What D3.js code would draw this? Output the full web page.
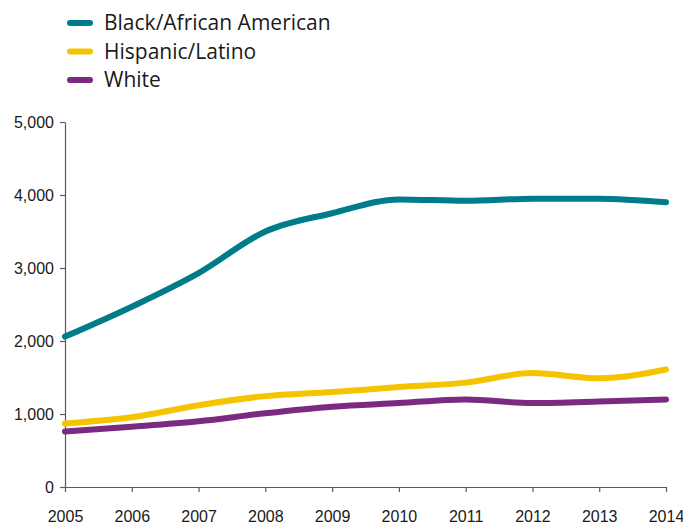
<!DOCTYPE html>
<html><head><meta charset="utf-8">
<script src="https://cdn.jsdelivr.net/npm/d3@7"></script>
<style>
body{margin:0;background:#fff;}
svg{display:block;font-family:"Open Sans","Liberation Sans",sans-serif;}
</style></head>
<body>
<svg id="chart" width="683" height="525"></svg>
<script>
const years = [2005,2006,2007,2008,2009,2010,2011,2012,2013,2014];
const seriesNames = ["Black/African American","Hispanic/Latino","White"];
const blackValues = [2060,2470,2930,3500,3750,3940,3920,3950,3950,3900];
const hispanicValues = [870,955,1120,1245,1300,1370,1430,1560,1490,1610];
const whiteValues = [760,825,900,1010,1100,1150,1200,1150,1170,1200];
const yTicks = [0,1000,2000,3000,4000,5000];
const colors = ["#007b8a","#f5c400","#7b2a82"];

const series = [blackValues, hispanicValues, whiteValues];
const svg = d3.select("#chart");
const x = d3.scaleLinear().domain([2005,2014]).range([65,666]);
const y = d3.scaleLinear().domain([0,5000]).range([487,122]);

const axisColor = "#5a5a5a";
const yAxis = svg.append("g").attr("transform","translate(65,0)")
  .call(d3.axisLeft(y).tickValues(yTicks).tickSize(5).tickSizeOuter(0).tickPadding(6).tickFormat(d3.format(",")));
const xAxis = svg.append("g").attr("transform","translate(0,487)")
  .call(d3.axisBottom(x).tickValues(years).tickSize(5).tickSizeOuter(0).tickPadding(19).tickFormat(d3.format("d")));
[yAxis,xAxis].forEach(a=>{
  a.selectAll("path,line").attr("stroke",axisColor).attr("stroke-width",1.2);
  a.selectAll("text").attr("fill","#1a1a1a").attr("font-size",16);
});

const line = d3.line().x((d,i)=>x(years[i])).y(d=>y(d)).curve(d3.curveMonotoneX);
series.forEach((vals,k)=>{
  svg.append("path").datum(vals).attr("d",line)
    .attr("fill","none").attr("stroke",colors[k]).attr("stroke-width",6)
    .attr("stroke-linecap","round").attr("stroke-linejoin","round");
});

const legend = svg.append("g");
seriesNames.forEach((n,k)=>{
  const yy = 23 + k*28.5;
  legend.append("line").attr("x1",70).attr("x2",90).attr("y1",yy).attr("y2",yy)
    .attr("stroke",colors[k]).attr("stroke-width",6).attr("stroke-linecap","round");
  legend.append("text").attr("x",104).attr("y",yy).attr("dy","0.35em")
    .attr("font-size",21).attr("fill","#1a1a1a").text(n);
});
</script>
</body></html>
